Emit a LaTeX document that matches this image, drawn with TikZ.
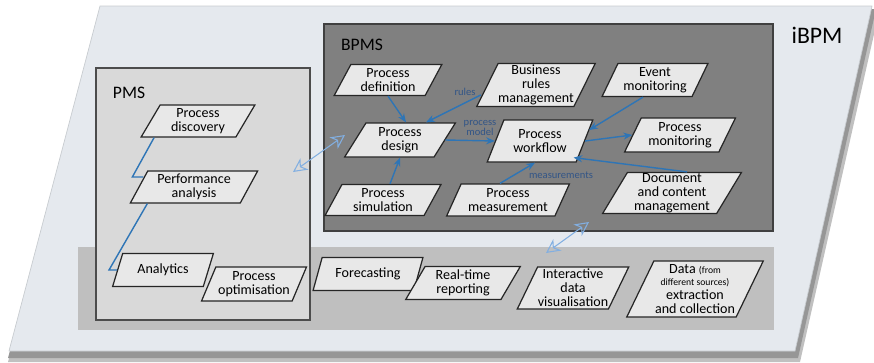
\documentclass[tikz,border=0pt]{standalone}
\usepackage{fontspec}
\setmainfont{Carlito}
\usetikzlibrary{shapes.geometric,arrows.meta}
\definecolor{ibpmfill}{RGB}{229,233,238}
\definecolor{ibpmline}{RGB}{200,204,208}
\definecolor{ibpmshade}{RGB}{150,150,150}
\definecolor{bpmsfill}{RGB}{128,128,128}
\definecolor{pmsfill}{RGB}{217,217,217}
\definecolor{bandfill}{RGB}{191,191,191}
\definecolor{taskfill}{RGB}{232,232,232}
\definecolor{flowblue}{RGB}{46,117,182}
\definecolor{linkblue}{RGB}{130,175,225}
\definecolor{notegray}{RGB}{50,85,135}
\tikzset{
  task/.style 2 args={trapezium, trapezium left angle=62, trapezium right angle=118,
    trapezium stretches=true, draw=black!85, line width=0.7pt, fill=taskfill,
    minimum width=#1*0.02cm, minimum height=#2*0.02cm, inner sep=0pt,
    align=center, font=\fontsize{8}{8}\selectfont},
  flow/.style={draw=flowblue, line width=0.8pt, -{Stealth[length=5pt,width=4pt]}},
  pmslink/.style={draw=flowblue, line width=0.8pt},
  link/.style={draw=linkblue, line width=0.6pt,
    {Stealth[open,length=8pt,width=8pt,inset=2.5pt]}-{Stealth[open,length=8pt,width=8pt,inset=2.5pt]}},
  note/.style={text=notegray, font=\fontsize{6}{6}\selectfont, inner sep=0pt, align=center},
  boxlabel/.style={font=\fontsize{10}{10}\selectfont, inner sep=0pt}
}
\begin{document}
\begin{tikzpicture}[x=0.02cm, y=-0.02cm]
  \useasboundingbox (0,0) rectangle (874,362);
  % outer iBPM plane with its shadow:
  \fill[ibpmshade!60] (104,12) -- (879,12) -- (800,362) -- (8,362) -- cycle;
  \fill[ibpmshade] (102,9) -- (876,9) -- (798,358) -- (8,358) -- cycle;
  \filldraw[fill=ibpmfill, draw=ibpmline] (100,6) -- (872,6) -- (795,351) -- (9,351) -- cycle;
  \node[font=\fontsize{13.5}{14}\selectfont, inner sep=0pt] (ibpmlabel) at (817,35) {iBPM};
  % grey band for analytics and reporting:
  \fill[bandfill] (78,247) rectangle (774,330);
  % PMS and BPMS boxes:
  \filldraw[fill=pmsfill, draw=black!70, line width=0.8pt] (96,68) rectangle (310,320);
  \node[boxlabel] (pmslabel) at (129,93) {PMS};
  \filldraw[fill=bpmsfill, draw=black!75, line width=0.8pt] (324,24) rectangle (773,231);
  \node[boxlabel] (bpmslabel) at (362,45) {BPMS};
  % PMS tasks:
  \node[task={114}{32}] (disc) at (198,121) {Process\\discovery};
  \node[task={128}{32}] (perf) at (194,187) {Performance\\analysis};
  \node[task={101}{33}] (anly) at (163,270) {Analytics};
  \node[task={105}{34}] (opt) at (254,284) {Process\\optimisation};
  % BPMS tasks:
  \node[task={108}{31}] (pdef) at (388,80) {Process\\definition};
  \node[task={114}{43}] (brm) at (536,85) {Business\\rules\\management};
  \node[task={106}{33}] (evm) at (655,80) {Event\\monitoring};
  \node[task={111}{34}] (pdes) at (400,140) {Process\\design};
  \node[task={106}{42}] (pwf) at (540,141) {Process\\workflow};
  \node[task={111}{34}] (pmon) at (680,135) {Process\\monitoring};
  \node[task={116}{31}] (psim) at (383,200) {Process\\simulation};
  \node[task={123}{32}] (pmea) at (508,200) {Process\\measurement};
  \node[task={139}{41}] (dcm) at (672,193) {Document\\and content\\management};
  % reporting tasks on the band:
  \node[task={110}{33}] (fore) at (368,274) {Forecasting};
  \node[task={115}{33}] (rtr) at (463,283) {Real-time\\reporting};
  \node[task={112}{42}] (idv) at (573,288) {Interactive\\data\\visualisation};
  \node[task={137}{56}] (dat) at (695,289)
    {Data {\fontsize{5.5}{6}\selectfont(from}\\[-1pt]{\fontsize{5.5}{6}\selectfont different sources)}\\extraction\\and collection};
  % links inside PMS:
  \draw[pmslink] ([shift={(14,0)}]disc.bottom left corner) -- ([shift={(-6,-10)}]perf.west) -- ([shift={(5,-10)}]perf.west);
  \draw[pmslink] ([shift={(18,0)}]perf.bottom left corner) -- ([shift={(-8,0)}]anly.west) -- (anly.west);
  % flows inside BPMS:
  \draw[flow] (pdef.south) -- ([shift={(6,0)}]pdes.north);
  \draw[flow] ([shift={(-6,10)}]brm.west) -- ([shift={(26,0)}]pdes.north);
  \draw[flow] (pdes.east) -- (pwf.west);
  \draw[flow] ([shift={(7,0)}]psim.north) -- (pdes.south);
  \draw[flow] ([shift={(-8,0)}]pmea.north) -- ([shift={(-5,0)}]pwf.south);
  \draw[flow] ([shift={(-12,0)}]evm.south) -- ([shift={(4,-11)}]pwf.east);
  \draw[flow] (pwf.east) -- (pmon.west);
  \draw[flow] ([shift={(15,0)}]dcm.north) -- ([shift={(-3,-5)}]pwf.bottom right corner);
  \node[note] (rulesnote) at (465,92) {rules};
  \node[note] (modelnote) at (480,128) {process\\model};
  \node[note] (measnote) at (561,175) {measurements};
  % exchanges between the layers:
  \coordinate (pmsend) at (293,172);
  \coordinate (bpmsend) at (345,135);
  \coordinate (bandend) at (546,253);
  \coordinate (bpmsbottom) at (589,222);
  \draw[link] (pmsend) -- (bpmsend);
  \draw[link] (bandend) -- (bpmsbottom);
\end{tikzpicture}
\end{document}
